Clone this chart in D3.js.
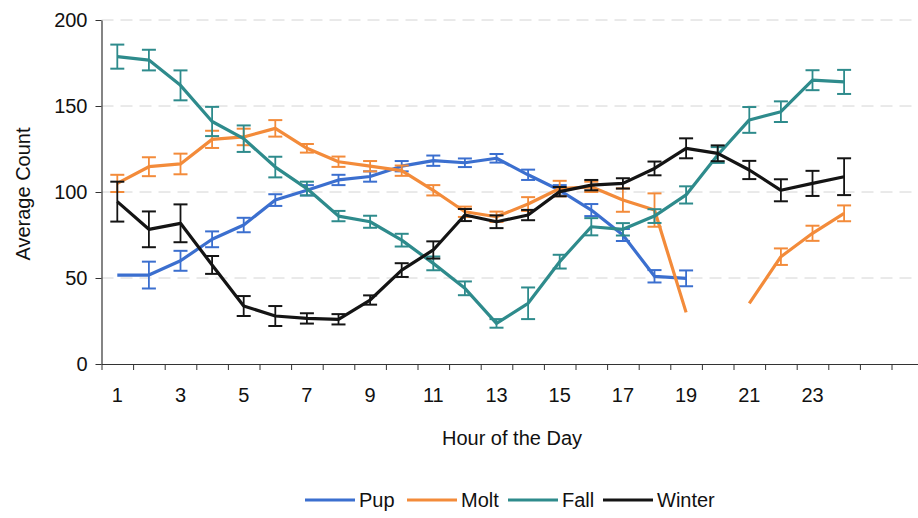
<!DOCTYPE html>
<html>
<head>
<meta charset="utf-8">
<script src="https://cdn.jsdelivr.net/npm/d3@7/dist/d3.min.js"></script>
<style>
  html, body { margin: 0; padding: 0; background: #fff; }
  svg { display: block; font-family: "Liberation Sans", Arial, sans-serif; }
</style>
</head>
<body>
<svg id="chart" width="918" height="518"></svg>
<script>
// Hour of the day (1..24)
const hours = d3.range(1, 25);
const xTickLabels = [1, 3, 5, 7, 9, 11, 13, 15, 17, 19, 21, 23];
const yTicks = [0, 50, 100, 150, 200];

// Average counts per season (null = no observation)
const pup    = [51.7, 51.7, 60, 72.5, 80.8, 95.3, 101, 107, 109, 115, 118.2, 117, 119.6, 110, 101, 89.5, 75, 51, 49.8, null, null, null, null, null];
const pupErr = [0, 7.8, 5.8, 4.6, 4.2, 3.4, 3, 3, 3, 3, 3, 2.5, 2.5, 3, 3, 3.5, 3.5, 3.6, 4.6, null, null, null, null, null];

const molt    = [105, 114.7, 116.3, 130.6, 132, 137, 125.4, 117.6, 115, 112.4, 101, 88.5, 85.6, 93, 102, 103, 95.3, 89.5, 30, null, 35.3, 62.4, 76, 87.6];
const moltErr = [5, 5.5, 6, 5, 4.8, 4.8, 2.5, 3, 3, 3, 3, 3, 3, 4, 4.5, 3, 6.8, 9.7, 0, null, 0, 4.8, 4.4, 4.6];

const fall    = [178.7, 176.7, 162, 141, 131, 114.5, 102, 86, 82.7, 72, 58.5, 44, 23.6, 35.3, 59.5, 79.8, 78.3, 86, 98.3, 121.5, 141.9, 146.7, 165, 164];
const fallErr = [7, 6, 8.7, 8.5, 7.7, 6, 4, 3, 3.5, 3.7, 4, 4, 2.5, 9.2, 4, 5, 3.6, 4, 5, 4.6, 7.5, 6, 5.8, 7];

const winter    = [94.4, 78.3, 81.8, 57.6, 33.7, 27.9, 26.5, 26, 37.2, 54.6, 66.3, 86.6, 82.7, 86.6, 100.2, 104, 105, 113.7, 125.4, 122.5, 112.8, 101, 105, 108.9];
const winterErr = [11.6, 10.4, 11, 5.2, 5.8, 5.8, 3, 3, 2.7, 4, 5, 3.5, 3.7, 3, 2.7, 3, 3, 4, 5.8, 4.6, 5.3, 6.4, 7.3, 10.7];

const seriesNames  = ["Pup", "Molt", "Fall", "Winter"];
const seriesColors = ["#3b6fcf", "#f38b3a", "#2e8b8c", "#141414"];
const seriesValues = [pup, molt, fall, winter];
const seriesErrors = [pupErr, moltErr, fallErr, winterErr];

const svg = d3.select("#chart");

const left = 101.5, bandW = 31.6, nBands = 26;
const x = d3.scaleLinear().domain([0.5, nBands + 0.5]).range([left, left + nBands * bandW]);
const y = d3.scaleLinear().domain([0, 200]).range([364, 20]);

// dashed horizontal gridlines
svg.append("g")
  .selectAll("line")
  .data(yTicks.filter(v => v > 0))
  .join("line")
  .attr("x1", left).attr("x2", 918)
  .attr("y1", d => y(d)).attr("y2", d => y(d))
  .attr("stroke", "#d4d4d4")
  .attr("stroke-width", 1)
  .attr("stroke-dasharray", "12,7");

// y axis
const yAxis = d3.axisLeft(y).tickValues(yTicks).tickSize(6).tickSizeOuter(0).tickPadding(8);
const gy = svg.append("g").attr("transform", `translate(${left},0)`).call(yAxis);
gy.select(".domain").attr("stroke", "#333").attr("stroke-width", 1.2);
gy.selectAll(".tick line").attr("stroke", "#333");
gy.selectAll(".tick text").attr("font-size", 20).attr("fill", "#111")
  .style("font-family", "Liberation Sans, Arial, sans-serif");

// x axis: ticks at category boundaries, labels at odd hours
const xAxis = d3.axisBottom(x)
  .tickValues(d3.range(0.5, nBands + 1, 1))
  .tickSize(6).tickSizeOuter(0).tickFormat("");
const gx = svg.append("g").attr("transform", `translate(0,${y(0)})`).call(xAxis);
gx.select(".domain").attr("stroke", "#333").attr("stroke-width", 1.2);
gx.selectAll(".tick line").attr("stroke", "#333");

svg.append("g")
  .selectAll("text")
  .data(xTickLabels)
  .join("text")
  .attr("x", d => x(d))
  .attr("y", 402)
  .attr("text-anchor", "middle")
  .attr("font-size", 20)
  .attr("fill", "#111")
  .text(d => d);

// axis titles
svg.append("text")
  .attr("transform", `translate(30,${(y(0) + y(200)) / 2 + 2}) rotate(-90)`)
  .attr("text-anchor", "middle")
  .attr("font-size", 20)
  .attr("fill", "#111")
  .text("Average Count");

svg.append("text")
  .attr("x", 512)
  .attr("y", 445)
  .attr("text-anchor", "middle")
  .attr("font-size", 20)
  .attr("fill", "#111")
  .text("Hour of the Day");

// series: error bars and lines
const line = d3.line()
  .defined(d => d.v != null)
  .x(d => x(d.h))
  .y(d => y(d.v));

seriesNames.forEach((name, i) => {
  const pts = hours.map((h, j) => ({ h, v: seriesValues[i][j], e: seriesErrors[i][j] }));
  const col = seriesColors[i];
  const g = svg.append("g").attr("class", "series-" + name);

  const bars = pts.filter(d => d.v != null && d.e);
  const cap = 7;
  g.selectAll("line.err")
    .data(bars).join("line").attr("class", "err")
    .attr("x1", d => x(d.h)).attr("x2", d => x(d.h))
    .attr("y1", d => y(d.v - d.e)).attr("y2", d => y(d.v + d.e))
    .attr("stroke", col).attr("stroke-width", 1.8);
  g.selectAll("line.capTop")
    .data(bars).join("line").attr("class", "capTop")
    .attr("x1", d => x(d.h) - cap).attr("x2", d => x(d.h) + cap)
    .attr("y1", d => y(d.v + d.e)).attr("y2", d => y(d.v + d.e))
    .attr("stroke", col).attr("stroke-width", 2);
  g.selectAll("line.capBot")
    .data(bars).join("line").attr("class", "capBot")
    .attr("x1", d => x(d.h) - cap).attr("x2", d => x(d.h) + cap)
    .attr("y1", d => y(d.v - d.e)).attr("y2", d => y(d.v - d.e))
    .attr("stroke", col).attr("stroke-width", 2);

  g.append("path")
    .datum(pts)
    .attr("d", line)
    .attr("fill", "none")
    .attr("stroke", col)
    .attr("stroke-width", 3.2)
    .attr("stroke-linejoin", "round");
});

// legend
const legendItems = [
  { name: "Pup", x0: 305 },
  { name: "Molt", x0: 407 },
  { name: "Fall", x0: 508 },
  { name: "Winter", x0: 603 }
];
const lg = svg.append("g");
legendItems.forEach((it, i) => {
  lg.append("line")
    .attr("x1", it.x0).attr("x2", it.x0 + 50)
    .attr("y1", 500).attr("y2", 500)
    .attr("stroke", seriesColors[i]).attr("stroke-width", 3);
  lg.append("text")
    .attr("x", it.x0 + 54).attr("y", 507)
    .attr("font-size", 20).attr("fill", "#111")
    .text(it.name);
});
</script>
</body>
</html>
